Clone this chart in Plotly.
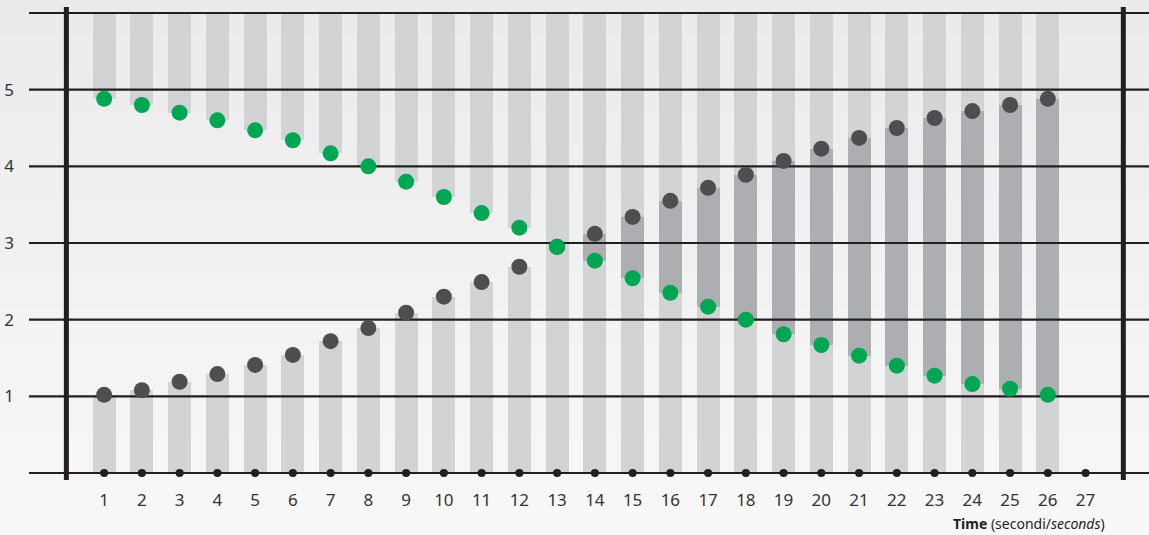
import plotly.graph_objects as go

seconds = list(range(1, 28))
columns = list(range(1, 27))
green_values = [4.88, 4.80, 4.70, 4.60, 4.47, 4.34, 4.17, 4.00, 3.80, 3.60, 3.39, 3.20, 2.95,
                2.77, 2.54, 2.35, 2.17, 2.00, 1.81, 1.67, 1.53, 1.40, 1.27, 1.16, 1.10, 1.02]
dark_values = [1.02, 1.08, 1.19, 1.29, 1.41, 1.54, 1.72, 1.89, 2.09, 2.30, 2.49, 2.69, 2.95,
               3.12, 3.34, 3.55, 3.72, 3.89, 4.07, 4.23, 4.37, 4.50, 4.63, 4.72, 4.80, 4.88]
y_top = 6
y_ticks = [0, 1, 2, 3, 4, 5, 6]
y_tick_text = ["", "1", "2", "3", "4", "5", ""]

LIGHT = "#d2d3d5"
DARK = "#adaeb1"
INK = "#231f20"
CLEAR = "rgba(0,0,0,0)"
W = 0.61

lo = [min(g, d) for g, d in zip(green_values, dark_values)]
hi = [max(g, d) for g, d in zip(green_values, dark_values)]

fig = go.Figure()
fig.add_trace(go.Bar(x=columns, y=lo, base=0, width=W, marker=dict(color=LIGHT, line=dict(width=0)),
                     hoverinfo="skip"))
fig.add_trace(go.Bar(x=columns, y=[y_top - h for h in hi], base=hi, width=W,
                     marker=dict(color=LIGHT, line=dict(width=0)), hoverinfo="skip"))
mid_colors = [DARK if d > g else CLEAR for g, d in zip(green_values, dark_values)]
fig.add_trace(go.Bar(x=columns, y=[h - l for h, l in zip(hi, lo)], base=lo, width=W,
                     marker=dict(color=mid_colors, line=dict(width=0)), hoverinfo="skip"))

x_lo, x_hi = -0.99, 28.68
for yv in y_ticks:
    fig.add_trace(go.Scatter(x=[x_lo, x_hi], y=[yv, yv], mode="lines",
                             line=dict(color=INK, width=2.2), hoverinfo="skip", cliponaxis=False))

fig.add_trace(go.Scatter(x=seconds, y=[0] * len(seconds), mode="markers",
                         marker=dict(color=INK, size=8, symbol="circle"), hoverinfo="skip"))
fig.add_trace(go.Scatter(x=seconds, y=[0] * len(seconds), mode="markers",
                         marker=dict(color=INK, size=7, symbol="triangle-down"), hoverinfo="skip"))

fig.add_trace(go.Scatter(x=columns, y=dark_values, mode="markers",
                         marker=dict(color="#4d4e50", size=16, line=dict(width=0))))
fig.add_trace(go.Scatter(x=columns, y=green_values, mode="markers",
                         marker=dict(color="#00a651", size=16, line=dict(width=0))))

# background vertical gradient (top #ebebed -> bottom #f8f8f8)
n_bands = 30
top_rgb = (235, 235, 237)
bot_rgb = (248, 248, 248)
y0_paper, y1_paper = -0.14, 1.02
for k in range(n_bands):
    t = k / (n_bands - 1)
    c = tuple(round(top_rgb[j] + (bot_rgb[j] - top_rgb[j]) * t) for j in range(3))
    ya = y1_paper - (y1_paper - y0_paper) * k / n_bands
    yb = y1_paper - (y1_paper - y0_paper) * (k + 1) / n_bands
    fig.add_shape(type="rect", xref="paper", yref="paper", x0=-0.05, x1=1.05, y0=yb - 0.001, y1=ya + 0.001,
                  fillcolor="rgb(%d,%d,%d)" % c, line=dict(width=0), layer="below")

for xv in [0, 28]:
    fig.add_shape(type="line", xref="x", yref="paper", x0=xv, x1=xv, y0=0, y1=1,
                  line=dict(color=INK, width=5), layer="above")

fig.add_annotation(xref="paper", yref="paper", x=0.9625, y=-0.091, xanchor="right", yanchor="middle",
                   text="<b>Time</b> (secondi/<i>seconds</i>)", showarrow=False,
                   font=dict(size=14, color=INK, family="Noto Sans"))

fig.update_layout(
    width=1149, height=535,
    margin=dict(l=29, r=0, t=7, b=55),
    paper_bgcolor="#f2f2f3", plot_bgcolor=CLEAR,
    showlegend=False, barmode="overlay", bargap=0,
    font=dict(family="Noto Sans", size=17, color="#333333"),
    xaxis=dict(range=[x_lo, x_hi], tickvals=seconds, ticktext=[str(s) for s in seconds],
               showgrid=False, zeroline=False, showline=False, ticks="", ticklabelstandoff=8),
    yaxis=dict(range=[-0.091, 6.078], tickvals=y_ticks, ticktext=y_tick_text,
               showgrid=False, zeroline=False, showline=False, ticks="", ticklabelstandoff=14),
)

fig.write_html("out.html", config={"displayModeBar": False},
               post_script="document.body.style.margin='0';document.body.style.overflow='hidden';")
